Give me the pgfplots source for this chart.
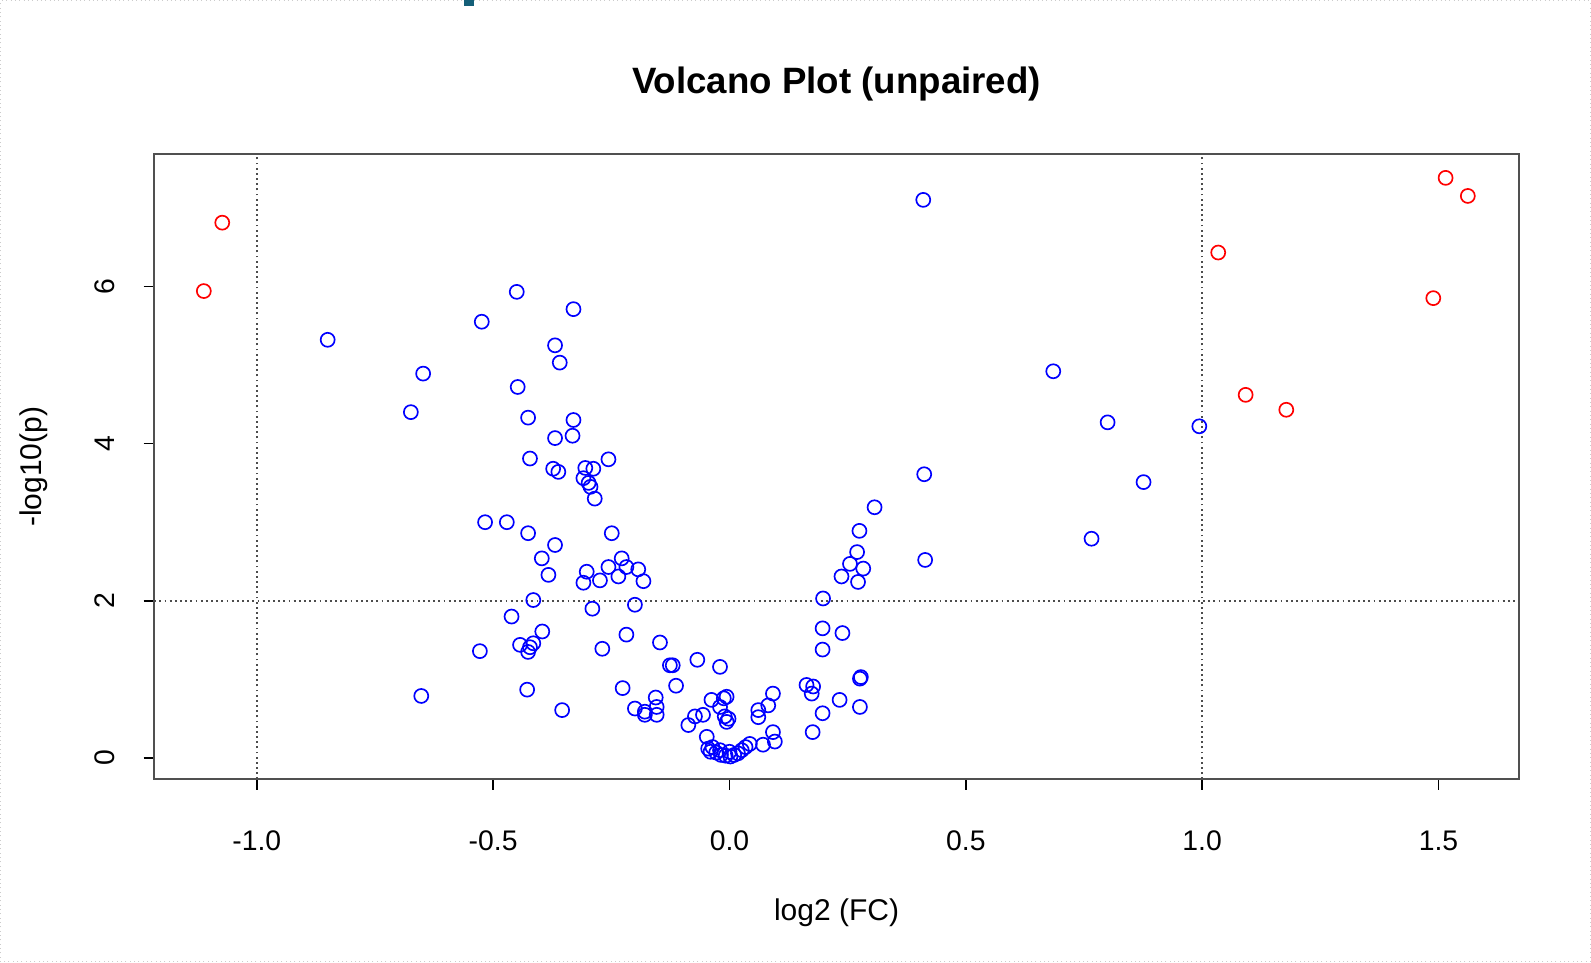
\documentclass[border=0pt]{standalone}
\usepackage{pgfplots}
\pgfplotsset{compat=1.18}
\usepackage{pgfplotstable}
\usepackage{fontspec}
\setmainfont{Liberation Sans}
\definecolor{framegray}{RGB}{80,80,80}
\definecolor{tealmark}{RGB}{20,95,120}

\pgfplotstableread{
x y
-0.850 5.32
-0.674 4.40
-0.648 4.89
-0.652 0.79
-0.524 5.55
-0.450 5.93
-0.330 5.71
-0.369 5.25
-0.359 5.03
-0.448 4.72
-0.426 4.33
-0.330 4.30
-0.332 4.10
-0.369 4.07
-0.422 3.81
-0.256 3.80
-0.373 3.68
-0.362 3.64
-0.305 3.69
-0.288 3.68
-0.309 3.56
-0.298 3.50
-0.294 3.45
-0.285 3.30
-0.517 3.00
-0.471 3.00
-0.426 2.86
-0.249 2.86
-0.369 2.71
-0.397 2.54
-0.383 2.33
-0.302 2.37
-0.309 2.23
-0.274 2.26
-0.256 2.43
-0.228 2.54
-0.218 2.43
-0.235 2.31
-0.193 2.40
-0.182 2.25
-0.415 2.01
-0.290 1.90
-0.200 1.95
-0.461 1.80
-0.396 1.61
-0.218 1.57
-0.443 1.44
-0.422 1.41
-0.415 1.46
-0.426 1.35
-0.528 1.36
-0.269 1.39
-0.147 1.47
-0.126 1.18
-0.120 1.18
-0.068 1.25
-0.020 1.16
-0.428 0.87
-0.226 0.89
-0.113 0.92
-0.354 0.61
-0.200 0.63
-0.179 0.59
-0.156 0.77
-0.179 0.55
-0.154 0.65
-0.154 0.55
-0.087 0.42
-0.073 0.53
-0.056 0.55
-0.038 0.74
-0.006 0.78
-0.012 0.76
-0.020 0.65
-0.010 0.53
-0.006 0.46
-0.002 0.50
-0.048 0.27
-0.045 0.12
-0.036 0.14
-0.028 0.07
-0.018 0.04
-0.008 0.03
0.002 0.02
0.010 0.04
0.018 0.06
0.026 0.10
0.034 0.14
0.043 0.18
-0.040 0.08
-0.020 0.10
0.000 0.08
0.061 0.61
0.061 0.52
0.082 0.67
0.092 0.82
0.092 0.33
0.096 0.21
0.071 0.17
0.163 0.93
0.177 0.91
0.174 0.82
0.176 0.33
0.197 0.57
0.233 0.74
0.276 0.65
0.276 1.01
0.278 1.03
0.197 1.65
0.239 1.59
0.197 1.38
0.198 2.03
0.237 2.31
0.272 2.24
0.255 2.47
0.283 2.41
0.270 2.62
0.275 2.89
0.307 3.19
0.412 3.61
0.414 2.52
0.410 7.10
0.685 4.92
0.800 4.27
0.994 4.22
0.876 3.51
0.766 2.79
}\bluedata

\pgfplotstableread{
x y
-1.073 6.81
-1.112 5.94
1.034 6.43
1.515 7.38
1.562 7.15
1.489 5.85
1.092 4.62
1.178 4.43
}\reddata

\begin{document}
\begin{tikzpicture}
\useasboundingbox (0,0) rectangle (477.3pt,288.9pt);
\draw[gray!40, densely dotted, line width=0.3pt] (0.3pt,0.3pt) rectangle (477pt,288.6pt);
\fill[tealmark] (139.2pt,287.1pt) rectangle (142.2pt,288.9pt);
\begin{axis}[
  at={(46.26pt,55.11pt)}, anchor=south west,
  scale only axis, width=409.4pt, height=187.5pt,
  xmin=-1.217, xmax=1.670, ymin=-0.27, ymax=7.68,
  axis line style={framegray, line width=0.7pt},
  xtick={-1,-0.5,0,0.5,1,1.5},
  ytick={0,2,4,6},
  xtick pos=left, ytick pos=left,
  tick align=outside,
  major tick length=3.2pt,
  tick style={black, line width=0.5pt},
  /pgf/number format/.cd, fixed, fixed zerofill, precision=1, assume math mode=true,
  /pgfplots/.cd,
  yticklabel={\pgfmathprintnumber[fixed, precision=0]{\tick}},
  ticklabel style={font=\fontsize{8.5}{10}\selectfont},
  xticklabel style={anchor=north, inner sep=0pt, yshift=-12pt},
  yticklabel style={rotate=90, anchor=south, inner sep=0pt, yshift=8.5pt},
  title={\bfseries Volcano Plot (unpaired)},
  title style={at={(axis description cs:0.5,1.080)}, anchor=center, font=\fontsize{11}{13}\selectfont},
  xlabel={log2 (FC)},
  xlabel style={at={(axis description cs:0.5,-0.214)}, anchor=center, font=\fontsize{9}{11}\selectfont},
  ylabel={-log10(p)},
  ylabel style={at={(axis description cs:-0.0883,0.5)}, anchor=center, font=\fontsize{9}{11}\selectfont},
  clip=false,
]
\addplot[black!70, densely dotted, line width=0.55pt, forget plot] coordinates {(-1,-0.27) (-1,7.68)};
\addplot[black!70, densely dotted, line width=0.55pt, forget plot] coordinates {(1,-0.27) (1,7.68)};
\addplot[black!70, densely dotted, line width=0.55pt, forget plot] coordinates {(-1.217,2) (1.670,2)};
\addplot[only marks, mark=o, mark size=2.1pt, mark options={blue, line width=0.5pt}] table[x=x,y=y] {\bluedata};
\addplot[only marks, mark=o, mark size=2.1pt, mark options={red, line width=0.5pt}] table[x=x,y=y] {\reddata};
\end{axis}
\end{tikzpicture}
\end{document}
